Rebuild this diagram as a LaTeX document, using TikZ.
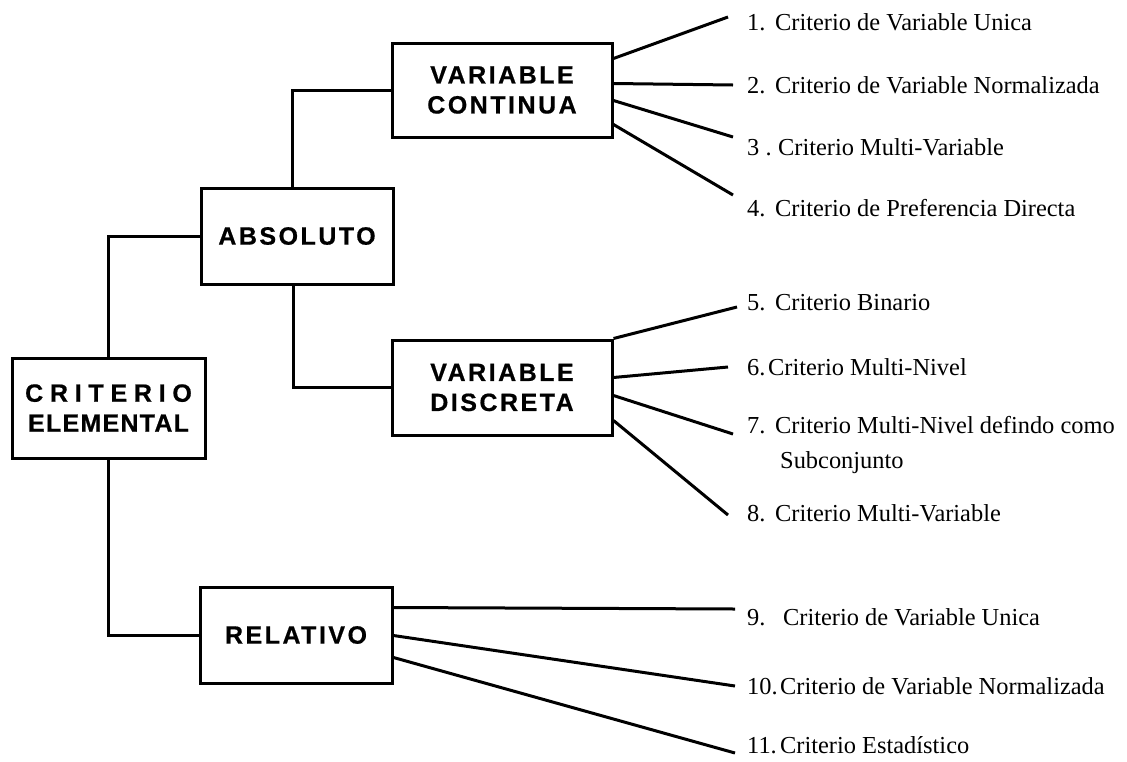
\documentclass[tikz,border=0pt]{standalone}
\usepackage{fontspec}
\setmainfont{Liberation Serif}
\newfontfamily\boxfont[LetterSpace=10,FakeBold=0.6]{Liberation Sans}
\newfontfamily\wideboxfont[LetterSpace=27,FakeBold=0.6]{Liberation Sans}
\newfontfamily\tightboxfont[LetterSpace=5,FakeBold=0.6]{Liberation Sans}
\usetikzlibrary{calc}

\begin{document}
\begin{tikzpicture}[x=1pt,y=-1pt,
  catbox/.style={draw, line width=3pt, inner sep=0pt, align=center,
    font=\boxfont\bfseries\fontsize{25}{30}\selectfont},
  link/.style={line width=3pt},
  spoke/.style={line width=3pt},
  item/.style={anchor=west, inner sep=0pt, align=left,
    font=\fontsize{24.4}{35}\selectfont}
]
\useasboundingbox (0,0) rectangle (1127,761);

% category boxes
\node[catbox, minimum width=193pt, minimum height=100pt] (crit) at (108.5,408)
  {{\wideboxfont\bfseries CRITERIO}\\{\tightboxfont\bfseries ELEMENTAL}};
\node[catbox, minimum width=192pt, minimum height=96pt] (abs) at (297,236) {ABSOLUTO};
\node[catbox, minimum width=220pt, minimum height=94pt] (vc) at (502,90) {VARIABLE\\CONTINUA};
\node[catbox, minimum width=220pt, minimum height=95pt] (vd) at (502,387.5) {VARIABLE\\DISCRETA};
\node[catbox, minimum width=192pt, minimum height=96pt] (rel) at (296,635) {RELATIVO};

% tree connectors
\draw[link] (crit.north) |- (abs.west);
\draw[link] (crit.south) |- (rel.west);
\draw[link] ([xshift=-5pt]abs.north) |- (vc.west);
\draw[link] ([xshift=-4pt]abs.south) |- (vd.west);

% criteria list
\node[item] (t1) at (747,22) {\makebox[28pt][l]{1.}Criterio de Variable Unica};
\node[item] (t2) at (747,85) {\makebox[28pt][l]{2.}Criterio de Variable Normalizada};
\node[item] (t3) at (747,147) {\makebox[31pt][l]{3 .}Criterio Multi-Variable};
\node[item] (t4) at (747,208) {\makebox[28pt][l]{4.}Criterio de Preferencia Directa};
\node[item] (t5) at (747,303) {\makebox[28pt][l]{5.}Criterio Binario};
\node[item] (t6) at (747,367) {\makebox[21pt][l]{6.}Criterio Multi-Nivel};
\node[item] (t7) at (747,444.5) {\makebox[28pt][l]{7.}Criterio Multi-Nivel defindo como\\\hspace*{33pt}Subconjunto};
\node[item] (t8) at (747,513) {\makebox[28pt][l]{8.}Criterio Multi-Variable};
\node[item] (t9) at (747,617) {\makebox[36pt][l]{9.}Criterio de Variable Unica};
\node[item] (t10) at (747,686) {\makebox[33pt][l]{10.}Criterio de Variable Normalizada};
\node[item] (t11) at (747,745) {\makebox[33pt][l]{11.}Criterio Estad\'istico};

% free ends of the spokes, just left of each entry
\coordinate (e1) at (728,17);
\coordinate (e2) at (733,85);
\coordinate (e3) at (733,137);
\coordinate (e4) at (733,195);
\coordinate (e5) at (737,307);
\coordinate (e6) at (728,367);
\coordinate (e7) at (733,434);
\coordinate (e8) at (728,515);
\coordinate (e9) at (735,609);
\coordinate (e10) at (735,686);
\coordinate (e11) at (735,753);

% spokes from the boxes to the entries
\draw[spoke] ($(vc.north east)+(0,17)$) -- (e1);
\draw[spoke] ($(vc.north east)+(0,42)$) -- (e2);
\draw[spoke] ($(vc.north east)+(0,59)$) -- (e3);
\draw[spoke] ($(vc.north east)+(0,83)$) -- (e4);
\draw[spoke] (vd.north east) -- (e5);
\draw[spoke] ($(vd.north east)+(0,39)$) -- (e6);
\draw[spoke] ($(vd.north east)+(0,57)$) -- (e7);
\draw[spoke] ($(vd.north east)+(0,82)$) -- (e8);
\draw[spoke] ($(rel.north east)+(0,22)$) -- (e9);
\draw[spoke] ($(rel.north east)+(0,50)$) -- (e10);
\draw[spoke] ($(rel.north east)+(0,72)$) -- (e11);
\end{tikzpicture}
\end{document}
